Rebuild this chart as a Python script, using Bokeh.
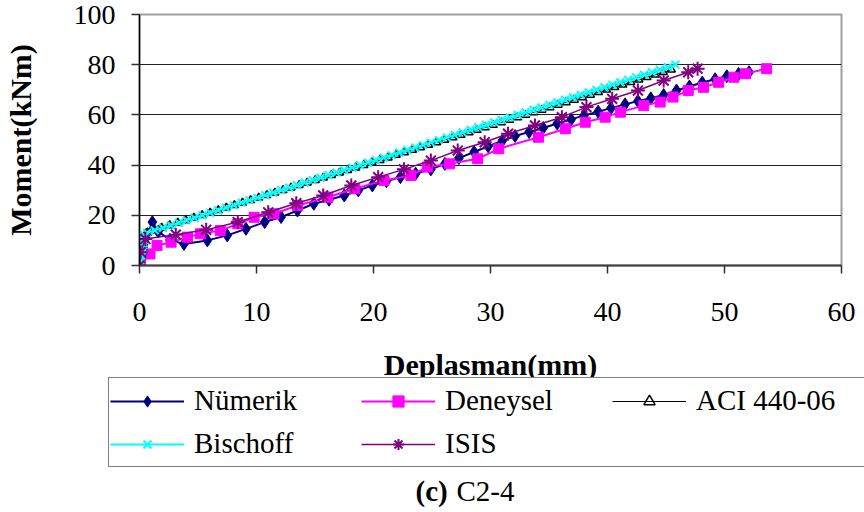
from bokeh.plotting import figure
from bokeh.layouts import column
from bokeh.models import Range1d, FixedTicker, Legend, LegendItem, Label
from bokeh.embed import file_html
from bokeh.resources import INLINE

# ---- data: moment (kNm) against mid-span deflection (mm) ----
x_ticks = [0, 10, 20, 30, 40, 50, 60]
y_ticks = [0, 20, 40, 60, 80, 100]

numerik_x = [0, 0.3, 0.7, 1.1, 1.6, 2.6, 3.8, 5.8, 7.5, 9.1, 10.7, 12.1, 13.5, 14.9,
             16.2, 17.5, 18.7, 19.9, 21.1, 22.3, 23.6, 24.9, 26.1, 27.3, 28.6, 29.8,
             31.0, 32.1, 33.3, 34.5, 35.7, 36.9, 38.0, 39.2, 40.3, 41.5, 42.6, 43.7,
             44.8, 45.9, 47.0, 48.1, 49.2, 50.2, 51.2, 52.1]
numerik_y = [0, 6.0, 12.5, 17.3, 13.5, 10.2, 8.6, 10.0, 12.0, 14.6, 17.3, 19.3, 21.9, 24.6,
             26.2, 27.9, 29.9, 31.9, 33.6, 35.2, 36.6, 38.3, 40.5, 42.8, 45.2, 47.5,
             49.6, 51.6, 53.2, 54.8, 56.6, 58.2, 59.8, 61.3, 62.7, 64.2, 65.5, 66.6,
             67.9, 69.7, 71.3, 72.9, 74.2, 75.4, 76.3, 77.0]

deneysel_x = [0, 0.1, 0.9, 1.5, 2.7, 4.1, 5.2, 6.9, 8.4, 9.8, 11.5, 13.5, 16.1, 18.4,
              20.9, 23.2, 24.6, 26.5, 28.9, 30.7, 34.1, 36.4, 38.1, 39.8, 41.1, 43.1,
              44.5, 45.6, 46.9, 48.2, 49.5, 50.8, 51.8, 53.6]
deneysel_y = [0, 0.7, 4.6, 8.0, 9.3, 11.3, 12.6, 13.9, 16.6, 19.2, 20.6, 23.9, 27.2, 30.6,
              33.9, 35.9, 39.2, 40.5, 42.5, 46.5, 51.1, 54.5, 57.1, 59.1, 61.1, 63.7,
              65.1, 67.1, 69.7, 71.0, 73.0, 75.0, 76.4, 78.4]

aci_m = [0, 1, 2, 3, 4, 5, 6, 7, 8, 9, 10, 11, 12, 13, 14, 15, 16, 17, 18, 19,
         20, 21, 22, 23, 24, 25, 26, 27, 28, 29, 30, 31, 32, 33, 34, 35, 36, 37, 38, 39,
         40, 41, 42, 43, 44, 45, 46, 47, 48, 49, 50, 51, 52, 53, 54, 55, 56, 57, 58, 59,
         60, 61, 62, 63, 64, 65, 66, 67, 68, 69, 70, 71, 72, 73, 74, 75, 76, 77, 78]
aci_d = [0.00, 0.04, 0.08, 0.12, 0.16, 0.20, 0.24, 0.28, 0.32, 0.36, 0.40, 0.44, 0.48,
         0.60, 1.20, 1.89, 2.58, 3.27, 3.96, 4.65,
         5.35, 6.04, 6.73, 7.42, 8.11, 8.80, 9.50, 10.19, 10.88, 11.57,
         12.26, 12.95, 13.65, 14.34, 15.03, 15.72, 16.41, 17.10, 17.79, 18.49,
         19.18, 19.87, 20.56, 21.25, 21.94, 22.64, 23.33, 24.02, 24.71, 25.40,
         26.09, 26.79, 27.48, 28.17, 28.86, 29.55, 30.24, 30.93, 31.63, 32.32,
         33.01, 33.70, 34.39, 35.08, 35.78, 36.47, 37.16, 37.85, 38.54, 39.23,
         39.92, 40.62, 41.31, 42.00, 42.69, 43.38, 44.07, 44.77, 45.46]

bischoff_m = [0, 1, 2, 3, 4, 5, 6, 7, 8, 9, 10, 11, 12, 13, 14, 15, 16, 17, 18, 19,
              20, 21, 22, 23, 24, 25, 26, 27, 28, 29, 30, 31, 32, 33, 34, 35, 36, 37, 38, 39,
              40, 41, 42, 43, 44, 45, 46, 47, 48, 49, 50, 51, 52, 53, 54, 55, 56, 57, 58, 59,
              60, 61, 62, 63, 64, 65, 66, 67, 68, 69, 70, 71, 72, 73, 74, 75, 76, 77, 78, 79, 80]
bischoff_d = [0.00, 0.04, 0.07, 0.11, 0.14, 0.18, 0.21, 0.25, 0.28, 0.32, 0.35, 0.39, 0.42,
              0.65, 1.30, 2.00, 2.67, 3.35, 4.02, 4.70,
              5.37, 6.04, 6.72, 7.39, 8.07, 8.74, 9.41, 10.09, 10.76, 11.44,
              12.11, 12.78, 13.46, 14.13, 14.81, 15.48, 16.15, 16.83, 17.50, 18.18,
              18.85, 19.52, 20.20, 20.87, 21.55, 22.22, 22.89, 23.57, 24.24, 24.92,
              25.59, 26.26, 26.94, 27.61, 28.29, 28.96, 29.63, 30.31, 30.98, 31.66,
              32.33, 33.00, 33.68, 34.35, 35.03, 35.70, 36.37, 37.05, 37.72, 38.40,
              39.07, 39.74, 40.42, 41.09, 41.77, 42.44, 43.11, 43.79, 44.46, 45.14, 45.81]

isis_x = [0, 0.1, 0.5, 3.1, 5.7, 8.4, 11.0, 13.4, 15.7, 18.1, 20.4, 22.6, 24.9, 27.2,
          29.5, 31.5, 33.8, 36.1, 38.2, 40.4, 42.6, 44.8, 46.9, 47.7]
isis_y = [0, 5.3, 10.6, 12.3, 14.2, 17.3, 21.2, 24.8, 27.9, 31.9, 35.2, 38.3, 41.8, 45.8,
          49.1, 52.5, 55.8, 59.1, 63.1, 66.4, 69.7, 73.7, 77.0, 78.4]

FONT = "Liberation Serif"

# series styles: (label, line colour, line width, marker, marker size, fill, marker line width)
STYLES = [
    ("Nümerik", "#000080", 2, "diamond", 13, "#000080", 1),
    ("Deneysel", "#FF00FF", 2, "square", 10, "#FF00FF", 1),
    ("ACI 440-06", "black", 1, "triangle", 8, None, 1.5),
    ("Bischoff", "#00FFFF", 2, "x", 11, None, 2),
    ("ISIS", "#800080", 1.5, "asterisk", 14, None, 2),
]
SERIES = [(numerik_x, numerik_y), (deneysel_x, deneysel_y), (aci_d, aci_m),
          (bischoff_d, bischoff_m), (isis_x, isis_y)]

# ---- chart ----
p = figure(width=864, height=340, output_backend="svg", toolbar_location=None,
           x_range=Range1d(0, 60), y_range=Range1d(0, 100),
           min_border_left=139, min_border_right=23, min_border_top=14,
           min_border_bottom=75)
p.frame_align = False
p.background_fill_color = "white"
p.border_fill_color = "white"
p.outline_line_color = "#a0a0a0"
p.outline_line_width = 2

p.xgrid.visible = False
p.ygrid.grid_line_color = "#222222"
p.ygrid.grid_line_width = 1
p.ygrid.ticker = FixedTicker(ticks=y_ticks)

p.xaxis.ticker = FixedTicker(ticks=x_ticks)
p.yaxis.ticker = FixedTicker(ticks=y_ticks)
for ax in (p.xaxis[0], p.yaxis[0]):
    ax.major_label_text_font = FONT
    ax.major_label_text_font_size = "28px"
    ax.major_label_text_color = "black"
    ax.major_tick_out = 8
    ax.major_tick_in = 0
    ax.minor_tick_out = 0
    ax.minor_tick_in = 0
    ax.major_tick_line_color = "#303030"
    ax.major_tick_line_width = 1.5
    ax.axis_label_text_font = FONT
    ax.axis_label_text_font_style = "bold"
    ax.axis_label_text_font_size = "30px"
    ax.axis_label_text_color = "black"

p.xaxis.axis_line_color = "#404040"
p.xaxis.axis_line_width = 2
p.yaxis.axis_line_color = "black"
p.yaxis.axis_line_width = 1.5
p.xaxis.major_label_standoff = 29
p.yaxis.major_label_standoff = 16
p.yaxis.axis_label = "Moment(kNm)"
p.yaxis.axis_label_standoff = 34

for (label, color, lw, marker, size, fill, mlw), (xs, ys) in zip(STYLES, SERIES):
    p.line(xs, ys, line_color=color, line_width=lw)
    p.scatter(xs, ys, marker=marker, size=size, fill_color=fill,
              line_color=color, line_width=mlw)

# ---- axis title, legend and caption panel ----
# the view window lies away from the data, so the series renderers here only
# feed the legend swatches
q = figure(width=864, height=172, output_backend="svg", toolbar_location=None,
           x_range=Range1d(100, 964), y_range=Range1d(100, 272),
           x_axis_type=None, y_axis_type=None, min_border=0)
q.frame_align = False
q.outline_line_color = None
q.grid.visible = False
q.background_fill_color = "white"
q.border_fill_color = "white"

items = []
for (label, color, lw, marker, size, fill, mlw), (xs, ys) in zip(STYLES, SERIES):
    lr = q.line(xs, ys, line_color=color, line_width=lw)
    sr = q.scatter(xs, ys, marker=marker, size=size, fill_color=fill,
                   line_color=color, line_width=mlw)
    items.append(LegendItem(label=label, renderers=[lr, sr]))

legend = Legend(
    items=items, location=(108, 45), orientation="horizontal", ncols=3,
    label_text_font=FONT, label_text_font_size="29px", label_text_color="black",
    glyph_width=74, glyph_height=28, label_standoff=10,
    label_width=167, label_height=43, spacing=0, padding=1, margin=0,
    border_line_color="black", border_line_width=1,
    background_fill_color="white", background_fill_alpha=1,
)
q.add_layout(legend)

q.add_layout(Label(x=490, y=148, x_units="screen", y_units="screen",
                   text="Deplasman(mm)", text_font=FONT, text_font_style="bold",
                   text_font_size="30px", text_align="center",
                   text_baseline="middle", text_color="black"))
q.add_layout(Label(x=415, y=22, x_units="screen", y_units="screen", text="(c)",
                   text_font=FONT, text_font_style="bold", text_font_size="29px",
                   text_baseline="middle", text_color="black"))
q.add_layout(Label(x=456, y=22, x_units="screen", y_units="screen", text="C2-4",
                   text_font=FONT, text_font_size="29px",
                   text_baseline="middle", text_color="black"))

layout = column(p, q, spacing=0)
open("out.html", "w").write(file_html(layout, INLINE))
